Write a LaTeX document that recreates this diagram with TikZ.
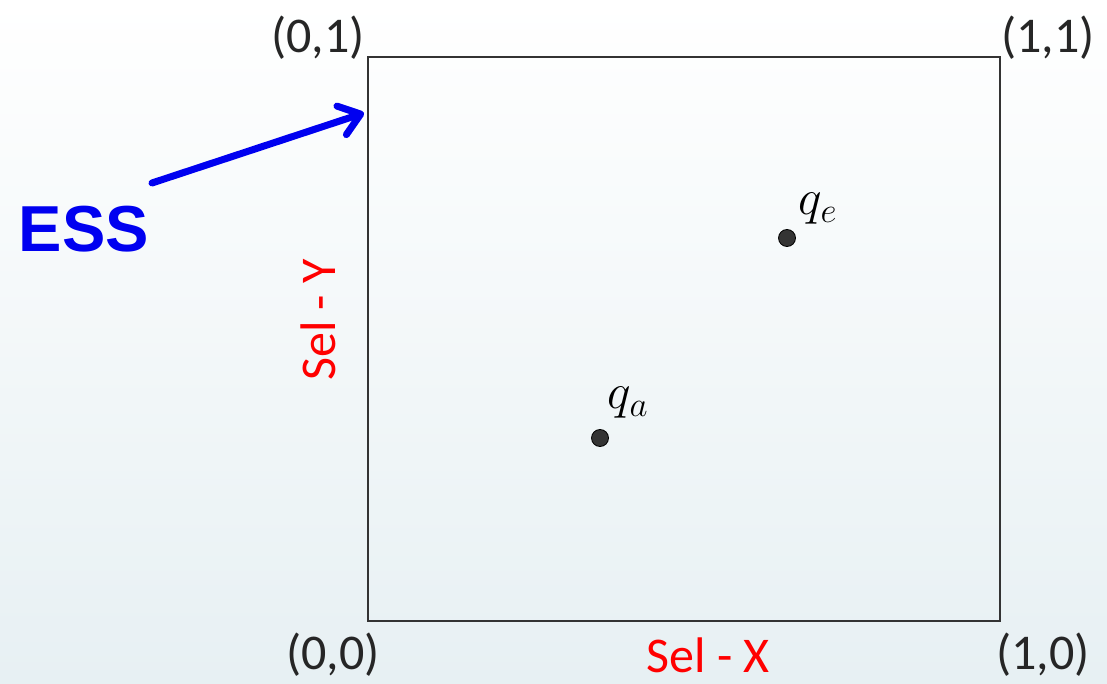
\RequirePackage{fix-cm}
\documentclass[tikz,border=0pt]{standalone}
\usepackage{fontspec}
\setmainfont{Carlito}
\newfontfamily\essfont{Liberation Sans}
\usetikzlibrary{arrows.meta}
\definecolor{bgbottom}{RGB}{231,240,243}
\definecolor{dotgray}{RGB}{52,52,52}
\definecolor{essblue}{RGB}{0,0,240}

\begin{document}
\begin{tikzpicture}[x=1pt, y=-1pt, >={Straight Barb[length=20pt,width=30pt,round]},
  every node/.style={font=\fontsize{50}{54}\selectfont, inner sep=0pt},
  corner/.style={text=black!85},
  axislabel/.style={text=red},
  qdot/.style={circle, fill=dotgray, draw=black, line width=0.8pt, minimum size=17pt},
  qlabel/.style={font=\fontsize{50}{54}\selectfont}]
% background
\shade[top color=white, bottom color=bgbottom] (0,0) rectangle (1107,684);
\useasboundingbox (0,0) rectangle (1107,684);
% selectivity space
\draw[line width=1.6pt, black!80] (368,57) rectangle (1000,621);
\node[corner] (c01) at (318,38) {(0,1)};
\node[corner] (c11) at (1048,38) {(1,1)};
\node[corner] (c00) at (333,655) {(0,0)};
\node[corner] (c10) at (1043,655) {(1,0)};
\node[axislabel] (selx) at (708,655) {Sel - X};
\node[axislabel, rotate=90] (sely) at (318,320) {Sel - Y};
% query points
\node[qdot] (qe) at (787,238) {};
\node[qlabel] (qelab) at (818,209) {$q_e$};
\node[qdot] (qa) at (600,438) {};
\node[qlabel] (qalab) at (628,403) {$q_a$};
% ESS
\node[font=\essfont\bfseries\fontsize{65}{70}\selectfont, text=essblue] (ess) at (84,229) {ESS};
\coordinate (esstail) at (152,183);
\coordinate (esshead) at (364,113);
\draw[->, essblue, line width=7pt, line cap=round, line join=round] (esstail) -- (esshead);
\end{tikzpicture}
\end{document}
